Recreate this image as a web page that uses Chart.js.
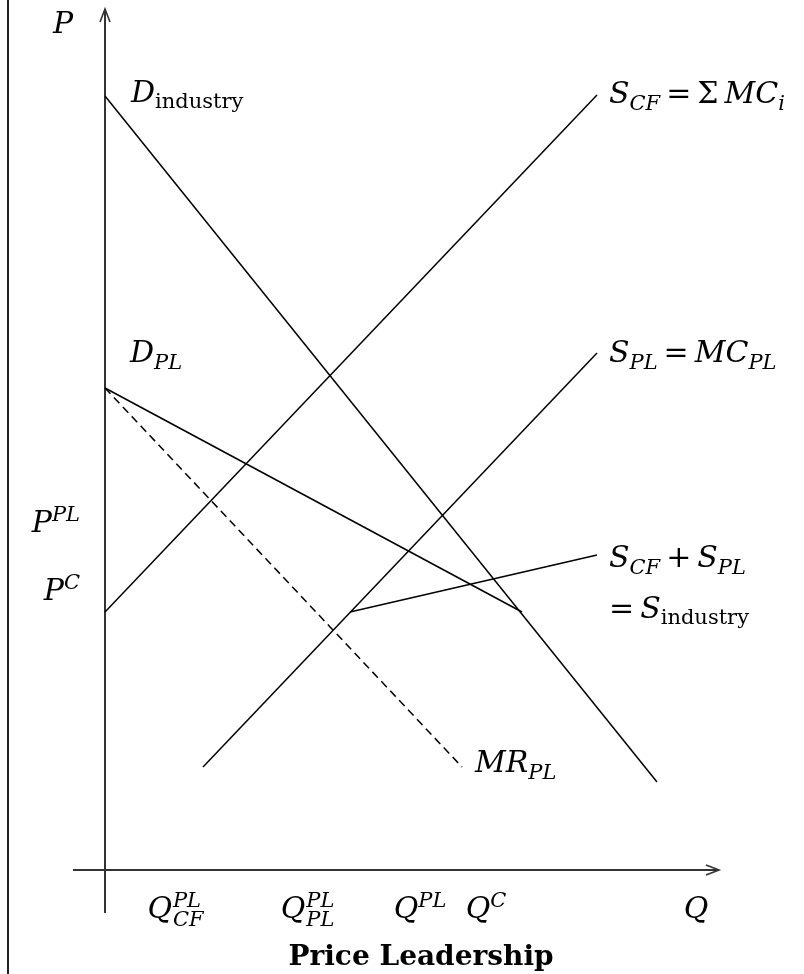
<!DOCTYPE html>
<html>
<head>
<meta charset="utf-8">
<script src="https://cdn.jsdelivr.net/npm/chart.js@4"></script>
<style>
  body { margin: 0; background: #fff; }
  #wrap { width: 804px; height: 974px; position: relative; }
</style>
</head>
<body>
<div id="wrap"><canvas id="canvas"></canvas></div>
<script>
// schematic units: Q along x, P along y
var dIndustry = [{x: 0, y: 774}, {x: 552, y: 88}];
var sCF       = [{x: 0, y: 258}, {x: 492, y: 775}];
var dPL       = [{x: 0, y: 482}, {x: 417, y: 258}];
var mrPL      = [{x: 0, y: 482}, {x: 357, y: 103}];
var sPL       = [{x: 98, y: 103}, {x: 492, y: 517}];
var sIndustry = [{x: 245, y: 258}, {x: 492, y: 315}];

var xTickValues = [70, 202, 315, 381, 591];
var xTickLabels = [
  [['Q', 'i'], [['PL', 'CF'], 'ss']],
  [['Q', 'i'], [['PL', 'PL'], 'ss']],
  [['Q', 'i'], ['PL', 'sp']],
  [['Q', 'i'], ['C', 'sp']],
  [['Q', 'i']]
];
var yTickValues = [349, 281];
var yTickLabels = [
  [['P', 'i'], ['PL', 'sp']],
  [['P', 'i'], ['C', 'sp']]
];

// curve labels: [x, y (left/baseline, data units), parts]
var curveLabels = [
  [-52, 837, [['P', 'i']]],
  [26, 768, [['D', 'i'], ['industry', 'rs']]],
  [504, 767, [['S', 'i'], ['CF', 'sb'], ['\u2009=\u2009', 'r'], ['\u03A3\u2009', 'r'], ['MC', 'i'], ['i', 'sb']]],
  [25, 508, [['D', 'i'], ['PL', 'sb']]],
  [504, 508, [['S', 'i'], ['PL', 'sb'], ['\u2009=\u2009', 'r'], ['MC', 'i'], ['PL', 'sb']]],
  [504, 303, [['S', 'i'], ['CF', 'sb'], ['\u2009+\u2009', 'r'], ['S', 'i'], ['PL', 'sb']]],
  [504, 252, [['=\u2009', 'r'], ['S', 'i'], ['industry', 'rs']]],
  [370, 98, [['MR', 'i'], ['PL', 'sb']]]
];

var FAM = '"DejaVu Serif", serif';
var BIG = 30, SMALL = 21;

function partFont(kind) {
  if (kind == 'i') return 'italic ' + BIG + 'px ' + FAM;
  if (kind == 'r') return BIG + 'px ' + FAM;
  if (kind == 'rs') return SMALL + 'px ' + FAM;
  return 'italic ' + SMALL + 'px ' + FAM;
}

function partWidth(ctx, p) {
  if (p[1] == 'ss') {
    ctx.font = partFont('sp');
    var a = ctx.measureText(p[0][0]).width;
    var b = ctx.measureText(p[0][1]).width;
    return Math.max(a, b);
  }
  ctx.font = partFont(p[1]);
  return ctx.measureText(p[0]).width;
}

function drawRich(ctx, parts, x, y, align) {
  var total = 0;
  parts.forEach(function(p) { total += partWidth(ctx, p); });
  if (align == 'center') x -= total / 2;
  if (align == 'right') x -= total;
  ctx.textAlign = 'left';
  ctx.textBaseline = 'alphabetic';
  parts.forEach(function(p) {
    var w = partWidth(ctx, p);
    if (p[1] == 'ss') {
      ctx.font = partFont('sp');
      ctx.fillText(p[0][0], x + 1, y - 11);
      ctx.fillText(p[0][1], x + 1, y + 8);
      w += 1;
    } else {
      ctx.font = partFont(p[1]);
      var dy = 0;
      if (p[1] == 'sb') dy = 7;
      if (p[1] == 'rs') dy = 6;
      if (p[1] == 'sp') dy = -11;
      ctx.fillText(p[0], x, y + dy);
    }
    x += w;
  });
}

function arrow(ctx, x, y, dx, dy) {
  var len = 13, half = 5;
  var px = -dy, py = dx;
  ctx.beginPath();
  ctx.moveTo(x - dx * len + px * half, y - dy * len + py * half);
  ctx.lineTo(x, y);
  ctx.lineTo(x - dx * len - px * half, y - dy * len - py * half);
  ctx.stroke();
}

var diagram = {
  id: 'diagram',
  beforeDatasetsDraw: function(chart) {
    var ctx = chart.ctx, xs = chart.scales.x, ys = chart.scales.y;
    var ox = xs.getPixelForValue(0), oy = ys.getPixelForValue(0);
    var a = chart.chartArea;
    ctx.save();
    // page frame line
    ctx.strokeStyle = '#222';
    ctx.lineWidth = 2;
    ctx.beginPath();
    ctx.moveTo(8, 0);
    ctx.lineTo(8, chart.height);
    ctx.stroke();
    // axes
    ctx.strokeStyle = '#333';
    ctx.lineWidth = 2;
    ctx.beginPath();
    ctx.moveTo(a.left, oy);
    ctx.lineTo(a.right, oy);
    ctx.moveTo(ox, a.bottom);
    ctx.lineTo(ox, a.top);
    ctx.stroke();
    ctx.lineWidth = 1.6;
    arrow(ctx, a.right, oy, 1, 0);
    arrow(ctx, ox, a.top, 0, -1);
    ctx.restore();
  },
  afterDatasetsDraw: function(chart) {
    var ctx = chart.ctx, xs = chart.scales.x, ys = chart.scales.y;
    var oy = ys.getPixelForValue(0), ox = xs.getPixelForValue(0);
    ctx.save();
    ctx.fillStyle = '#000';
    curveLabels.forEach(function(l) {
      drawRich(ctx, l[2], xs.getPixelForValue(l[0]), ys.getPixelForValue(l[1]), 'left');
    });
    xTickValues.forEach(function(v, i) {
      drawRich(ctx, xTickLabels[i], xs.getPixelForValue(v), oy + 48, 'center');
    });
    yTickValues.forEach(function(v, i) {
      drawRich(ctx, yTickLabels[i], ox - 25, ys.getPixelForValue(v) + 11, 'right');
    });
    ctx.font = 'bold 28px ' + FAM;
    ctx.textAlign = 'center';
    ctx.fillText('Price Leadership', 421, 965);
    ctx.restore();
  }
};

function line(data, dashed) {
  return {
    data: data,
    showLine: true,
    borderColor: '#000',
    borderWidth: 1.5,
    borderDash: dashed ? [8, 5] : [],
    pointRadius: 0,
    fill: false
  };
}

var ctx = document.getElementById('canvas').getContext('2d');
var myChart = new Chart(ctx, {
  type: 'scatter',
  data: {
    datasets: [
      line(dIndustry), line(sCF), line(dPL), line(mrPL, true), line(sPL), line(sIndustry)
    ]
  },
  options: {
    responsive: true,
    maintainAspectRatio: false,
    animation: false,
    layout: { padding: { left: 73, right: 85, top: 9, bottom: 61 } },
    plugins: { legend: { display: false }, tooltip: { enabled: false } },
    scales: {
      x: { type: 'linear', min: -32, max: 614, display: false },
      y: { type: 'linear', min: -43, max: 861, display: false }
    }
  },
  plugins: [diagram]
});
</script>
</body>
</html>
